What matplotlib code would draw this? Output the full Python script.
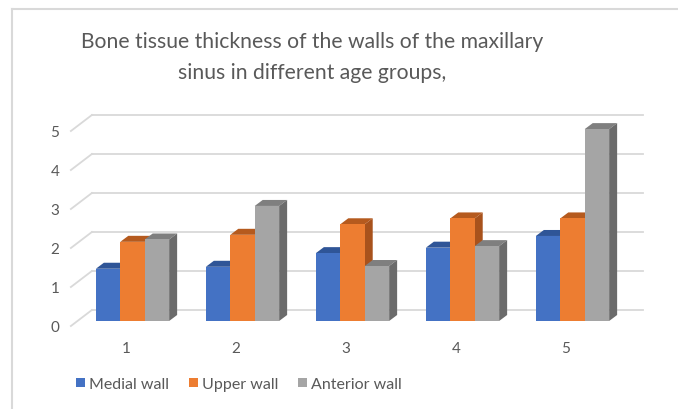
import matplotlib
matplotlib.use("Agg")
import matplotlib.pyplot as plt
from matplotlib.patches import Polygon, Patch
from matplotlib.lines import Line2D

# data
groups = ["1", "2", "3", "4", "5"]
medial = [1.34, 1.39, 1.74, 1.88, 2.18]
upper = [2.03, 2.21, 2.48, 2.63, 2.63]
anterior = [2.09, 2.95, 1.41, 1.92, 4.92]
series_names = ["Medial wall", "Upper wall", "Anterior wall"]

FRONT = ["#4472C4", "#ED7D31", "#A5A5A5"]
TOP = ["#2F5597", "#B55A1E", "#7F7F7F"]
SIDE = ["#2E4F8C", "#A8521C", "#6B6B6B"]
TXT = "#595959"
GRID = "#D9D9D9"

plt.rcParams["font.family"] = ["Lato", "DejaVu Sans"]

W, H = 678, 410
fig = plt.figure(figsize=(W / 100, H / 100), dpi=100)

# pixel geometry of the fake 3D box
PX_X, PX_Y = 110.0, 39.0          # pixels per category / per value unit
x0_px, y0_px = 132.5, 322.0       # first group centre, value 0 of bar fronts
ylo, yhi = -0.3, 5.2
xlo, xhi = -0.5, 4.5
left = (x0_px + xlo * PX_X) / W
width = (xhi - xlo) * PX_X / W
bottom = (H - (y0_px - ylo * PX_Y)) / H
height = (yhi - ylo) * PX_Y / H
ax = fig.add_axes([left, bottom, width, height])
ax.set_xlim(xlo, xhi)
ax.set_ylim(ylo, yhi)
for s in ax.spines.values():
    s.set_visible(False)

# depth offsets in data units
bdx, bdy = 8 / PX_X, 6 / PX_Y        # bar depth
wdx, wdy = 14.4 / PX_X, 11 / PX_Y    # bar front -> back wall
fdx, fdy = -6.6 / PX_X, -5 / PX_Y    # bar front -> front edge

# back wall gridlines + slanted left edge
for k in range(6):
    ax.plot([xlo + wdx, 4.641], [k + wdy, k + wdy], color=GRID, lw=1.3,
            clip_on=False, zorder=0)
    ax.plot([xlo + fdx, xlo + wdx], [k + fdy, k + wdy], color=GRID, lw=1.3,
            clip_on=False, zorder=0)

bw = 0.222
xs = list(range(len(groups)))
for j, vals in enumerate([medial, upper, anterior]):
    pos = [x + (j - 1) * bw for x in xs]
    ax.bar(pos, vals, width=bw, color=FRONT[j], zorder=3 + j * 0.1)
    for p, v in zip(pos, vals):
        xl, xr = p - bw / 2, p + bw / 2
        ax.add_patch(Polygon([(xl, v), (xl + bdx, v + bdy), (xr + bdx, v + bdy), (xr, v)],
                             closed=True, color=TOP[j], lw=0, zorder=2.9 + j * 0.1))
        ax.add_patch(Polygon([(xr, 0), (xr + bdx, bdy), (xr + bdx, v + bdy), (xr, v)],
                             closed=True, color=SIDE[j], lw=0, zorder=2.9 + j * 0.1))

# ticks on the front edge
ax.set_yticks([k + fdy for k in range(6)], [str(k) for k in range(6)])
ax.set_xticks([x + fdx for x in xs], groups)
ax.tick_params(axis="y", length=0, pad=13, labelsize=11, labelcolor=TXT)
ax.tick_params(axis="x", length=0, pad=6, labelsize=11, labelcolor=TXT)

fig.text(312 / W, 1 - 42 / H, "Bone tissue thickness of the walls of the maxillary",
         ha="center", va="center", fontsize=15.2, color=TXT)
fig.text(312 / W, 1 - 73 / H, "sinus in different age groups,",
         ha="center", va="center", fontsize=15.2, color=TXT)

handles = [Patch(facecolor=c, edgecolor="none") for c in FRONT]
fig.legend(handles, series_names, loc="center", bbox_to_anchor=(239 / W, 1 - 385 / H),
           ncol=3, frameon=False, fontsize=11.5, labelcolor=TXT, handlelength=0.55,
           handleheight=0.55, handletextpad=0.25, columnspacing=1.25)

# chart-area border (cropped: only left and top visible)
fig.add_artist(Line2D([12 / W, 12 / W], [0, 1 - 9.5 / H], transform=fig.transFigure,
                      color=GRID, lw=1.5))
fig.add_artist(Line2D([12 / W, 1], [1 - 9.5 / H, 1 - 9.5 / H], transform=fig.transFigure,
                      color=GRID, lw=1.5))

fig.savefig("out.png", dpi=100, facecolor="white")
